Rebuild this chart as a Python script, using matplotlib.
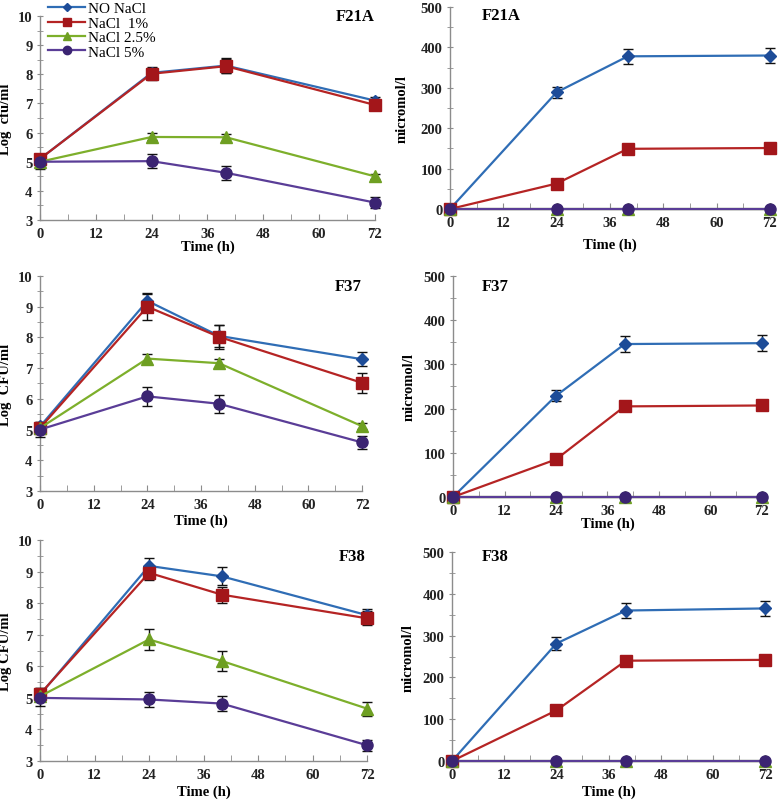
import matplotlib
matplotlib.use("Agg")
import matplotlib.pyplot as plt
from matplotlib.ticker import MultipleLocator
from matplotlib.lines import Line2D

plt.rcParams['font.family'] = ['Liberation Serif', 'DejaVu Serif']

time_h = [0, 24, 40, 72]
series_names = ["NO NaCl", "NaCl  1%", "NaCl 2.5%", "NaCl 5%"]

# F21A - log cfu/ml
f21a_log = {
    "NO NaCl":   [5.10, 8.05, 8.30, 7.10],
    "NaCl  1%":  [5.10, 8.02, 8.28, 6.95],
    "NaCl 2.5%": [5.00, 5.85, 5.84, 4.50],
    "NaCl 5%":   [5.00, 5.02, 4.62, 3.60],
}
f21a_log_err = {
    "NO NaCl":   [0.10, 0.20, 0.25, 0.12],
    "NaCl  1%":  [0.10, 0.20, 0.25, 0.15],
    "NaCl 2.5%": [0.08, 0.12, 0.12, 0.08],
    "NaCl 5%":   [0.25, 0.25, 0.25, 0.18],
}
# F21A - micromol/l
f21a_mic = {
    "NO NaCl":   [0, 289, 378, 380],
    "NaCl  1%":  [0, 63, 149, 151],
    "NaCl 2.5%": [0, 0, 0, 0],
    "NaCl 5%":   [0, 0, 0, 0],
}
f21a_mic_err = {
    "NO NaCl":   [0, 14, 18, 18],
    "NaCl  1%":  [0, 3, 3, 3],
    "NaCl 2.5%": [0, 0, 0, 0],
    "NaCl 5%":   [0, 0, 0, 0],
}

# F37 - log CFU/ml
f37_log = {
    "NO NaCl":   [5.10, 9.19, 8.05, 7.29],
    "NaCl  1%":  [5.05, 9.00, 8.02, 6.52],
    "NaCl 2.5%": [5.05, 7.31, 7.16, 5.11],
    "NaCl 5%":   [5.00, 6.08, 5.84, 4.58],
}
f37_log_err = {
    "NO NaCl":   [0.15, 0.25, 0.35, 0.22],
    "NaCl  1%":  [0.15, 0.42, 0.40, 0.32],
    "NaCl 2.5%": [0.10, 0.15, 0.15, 0.10],
    "NaCl 5%":   [0.25, 0.32, 0.30, 0.22],
}
f37_mic = {
    "NO NaCl":   [0, 229, 346, 348],
    "NaCl  1%":  [0, 85, 205, 207],
    "NaCl 2.5%": [0, 0, 0, 0],
    "NaCl 5%":   [0, 0, 0, 0],
}
f37_mic_err = {
    "NO NaCl":   [0, 12, 18, 18],
    "NaCl  1%":  [0, 3, 3, 3],
    "NaCl 2.5%": [0, 0, 0, 0],
    "NaCl 5%":   [0, 0, 0, 0],
}

# F38 - log CFU/ml
f38_log = {
    "NO NaCl":   [5.10, 9.18, 8.85, 7.62],
    "NaCl  1%":  [5.12, 8.96, 8.27, 7.52],
    "NaCl 2.5%": [5.05, 6.85, 6.17, 4.66],
    "NaCl 5%":   [5.00, 4.95, 4.82, 3.50],
}
f38_log_err = {
    "NO NaCl":   [0.20, 0.25, 0.28, 0.20],
    "NaCl  1%":  [0.20, 0.22, 0.25, 0.22],
    "NaCl 2.5%": [0.15, 0.33, 0.33, 0.22],
    "NaCl 5%":   [0.25, 0.25, 0.25, 0.17],
}
f38_mic = {
    "NO NaCl":   [0, 281, 360, 365],
    "NaCl  1%":  [0, 121, 240, 242],
    "NaCl 2.5%": [0, 0, 0, 0],
    "NaCl 5%":   [0, 0, 0, 0],
}
f38_mic_err = {
    "NO NaCl":   [0, 15, 18, 18],
    "NaCl  1%":  [0, 3, 3, 3],
    "NaCl 2.5%": [0, 0, 0, 0],
    "NaCl 5%":   [0, 0, 0, 0],
}

styles = {
    "NO NaCl":   dict(color="#2F6DB5", mfc="#1D4C98", mec="#1D4C98", marker="D", ms=6),
    "NaCl  1%":  dict(color="#B52424", mfc="#A3161A", mec="#A3161A", marker="s", ms=8),
    "NaCl 2.5%": dict(color="#7DAF2B", mfc="#6E9F22", mec="#6E9F22", marker="^", ms=8),
    "NaCl 5%":   dict(color="#5A3D97", mfc="#3B2472", mec="#3B2472", marker="o", ms=8),
}

fig = plt.figure(figsize=(7.82, 8.04), dpi=100)

positions = [
    [0.0512, 0.7251, 0.428, 0.2537],
    [0.5754, 0.7388, 0.4092, 0.2512],
    [0.0512, 0.3881, 0.4118, 0.2674],
    [0.5793, 0.3806, 0.3951, 0.2749],
    [0.0512, 0.0522, 0.4182, 0.2749],
    [0.578, 0.0522, 0.4003, 0.26],
]

# (values, errors, ylabel, title, kind, title x, title y, ylabel x, xlabel y)
panels = [
    (f21a_log, f21a_log_err, "Log  cfu/ml", "F21A", "log", 1.0, 1.0, -0.084, -0.098),
    (f21a_mic, f21a_mic_err, "micromol/l", "F21A", "mic", 0.10, 0.96, -0.13, -0.139),
    (f37_log, f37_log_err, "Log  CFU/ml", "F37", "log", 1.0, 0.953, -0.087, -0.107),
    (f37_mic, f37_mic_err, "micromol/l", "F37", "mic", 0.094, 0.955, -0.12, -0.088),
    (f38_log, f38_log_err, "Log CFU/ml", "F38", "log", 0.995, 0.928, -0.086, -0.104),
    (f38_mic, f38_mic_err, "micromol/l", "F38", "mic", 0.096, 0.98, -0.118, -0.11),
]

spine_col = "#8C8C8C"
for i, (pos, (vals, errs, ylab, title, kind, tx, ty, ylx, xly)) in enumerate(zip(positions, panels)):
    ax = fig.add_axes(pos)
    for name in series_names:
        st = styles[name]
        ax.errorbar(time_h, vals[name], yerr=errs[name], color=st["color"],
                    marker=st["marker"], ms=st["ms"], mfc=st["mfc"], mec=st["mec"],
                    lw=1.6, ecolor="#111111", elinewidth=1.0, capsize=3.5,
                    capthick=1.0, label=name, clip_on=False, zorder=3)
    ax.set_xlim(0, 72)
    ax.xaxis.set_major_locator(MultipleLocator(12))
    ax.xaxis.set_minor_locator(MultipleLocator(6))
    if kind == "log":
        ax.set_ylim(3, 10)
        ax.yaxis.set_major_locator(MultipleLocator(1))
        ax.yaxis.set_minor_locator(MultipleLocator(0.5))
        ax.text(tx, ty, title, transform=ax.transAxes, ha="right", va="center",
                fontsize=12, fontweight="bold")
    else:
        ax.set_ylim(0, 500)
        ax.yaxis.set_major_locator(MultipleLocator(100))
        ax.yaxis.set_minor_locator(MultipleLocator(50))
        ax.text(tx, ty, title, transform=ax.transAxes, ha="left", va="center",
                fontsize=12, fontweight="bold")
    for s in ["top", "right"]:
        ax.spines[s].set_visible(False)
    for s in ["left", "bottom"]:
        ax.spines[s].set_color(spine_col)
        ax.spines[s].set_linewidth(1.0)
    ax.tick_params(axis="both", which="both", colors=spine_col, labelcolor="#222222",
                   labelsize=10.5)
    ax.tick_params(axis="x", which="both", direction="in", length=4, pad=5)
    ax.tick_params(axis="y", which="both", direction="inout", length=5, pad=3)
    for lab in ax.get_xticklabels() + ax.get_yticklabels():
        lab.set_fontweight("bold")
    ax.set_xlabel("Time (h)", fontsize=10.5, fontweight="bold")
    ax.xaxis.set_label_coords(0.5, xly)
    ax.set_ylabel(ylab, fontsize=10.5, fontweight="bold")
    ax.yaxis.set_label_coords(ylx, 0.5)
    ax.patch.set_alpha(0)

leg_handles = []
for name in series_names:
    st = styles[name]
    leg_handles.append(Line2D([0], [0], color=st["color"], marker=st["marker"],
                              ms=st["ms"] * 0.75, mfc=st["mfc"], mec=st["mec"], lw=1.6))
fig.legend(leg_handles, series_names, loc="upper left", bbox_to_anchor=(0.05, 1.008),
           frameon=False, fontsize=11, handlelength=2.4, handletextpad=0.2,
           labelspacing=0.05, borderpad=0.1)

fig.savefig("out.png", dpi=100)
